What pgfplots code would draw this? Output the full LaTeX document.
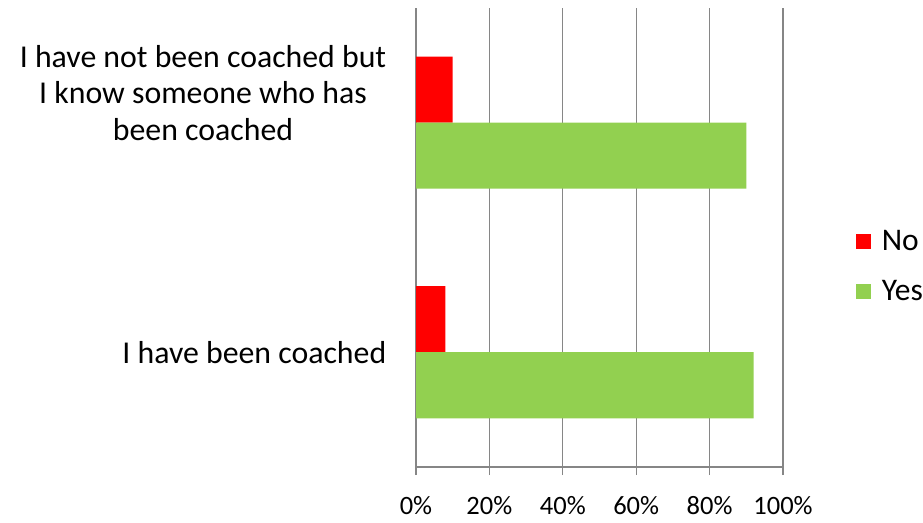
\documentclass[border=0pt]{standalone}
\usepackage{pgfplots}
\pgfplotsset{compat=1.18}
\usepackage{fontspec}
\setmainfont{Carlito}
\definecolor{barred}{HTML}{FF0000}
\definecolor{bargreen}{HTML}{92D050}
\definecolor{gridgray}{HTML}{868686}
\begin{document}
\begin{tikzpicture}
\useasboundingbox (0,0) rectangle (923pt,522pt);
\begin{axis}[
  at={(416pt,55pt)}, anchor=south west,
  scale only axis, width=367pt, height=459pt,
  xbar, xmin=0, xmax=100, ymin=-0.5, ymax=1.5,
  axis x line*=bottom, axis y line*=left,
  axis line style={gridgray, line width=1.2pt, -},
  xtick={0,20,40,60,80,100},
  xticklabels={0\%,20\%,40\%,60\%,80\%,100\%},
  xmajorgrids, grid style={gridgray, line width=1.2pt},
  tick align=outside,
  xtick style={gridgray, line width=1.2pt, /pgfplots/major tick length=8pt},
  ytick={0,1.131},
  yticklabels={I have been coached, {I have not been coached but\\I know someone who has\\been coached}},
  ytick style={draw=none},
  minor ytick={-0.5,0.5,1.5},
  minor tick style={gridgray, line width=1.2pt, /pgfplots/minor tick length=9pt},
  yticklabel style={align=center, font=\fontsize{31.8}{36.5}\selectfont, xshift=-22pt},
  xticklabel style={font=\fontsize{26.5}{30}\selectfont, yshift=-22pt},
  legend style={at={(1.198,0.437)}, anchor=west, draw=none, fill=none,
    font=\fontsize{31.5}{34}\selectfont, row sep=24pt, inner sep=0pt,
    /tikz/every odd column/.append style={column sep=9pt}},
  legend cell align=left,
  legend image code/.code={\fill[#1] (0pt,-7.5pt) rectangle (15pt,7.5pt);},
]
\addplot[draw=none, fill=barred, bar width=66pt, bar shift=33pt] coordinates {(8,0) (10,1)};
\addlegendentry{No}
\addplot[draw=none, fill=bargreen, bar width=66pt, bar shift=-33pt] coordinates {(92,0) (90,1)};
\addlegendentry{Yes}
\end{axis}
\end{tikzpicture}
\end{document}
